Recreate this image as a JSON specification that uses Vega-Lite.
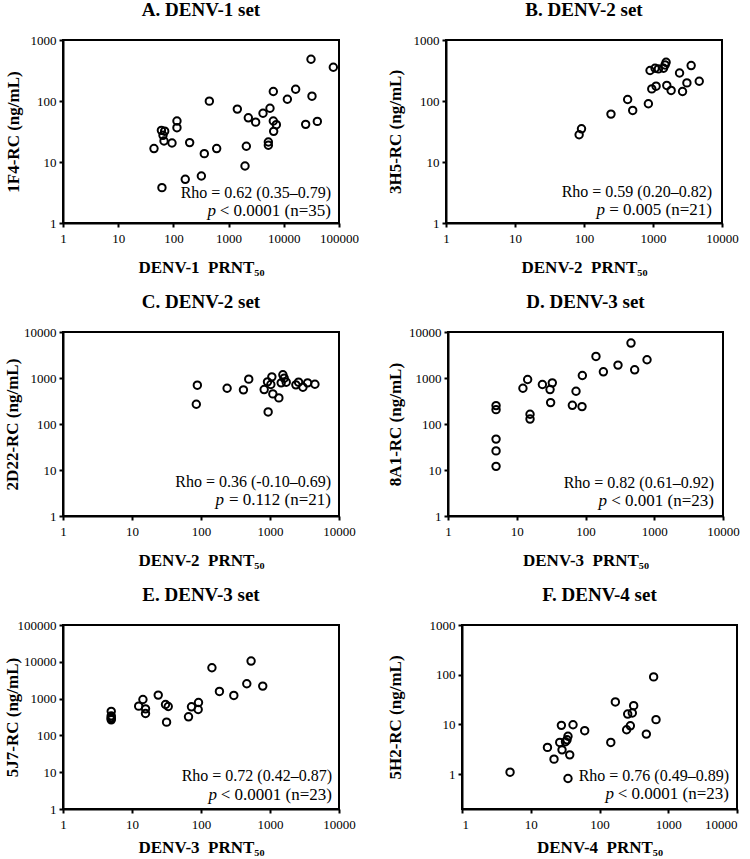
{
  "$schema": "https://vega.github.io/schema/vega-lite/v6.json",
  "padding": {"left": 2, "top": 0, "right": 2, "bottom": 0},
  "columns": 2,
  "align": "none",
  "spacing": {"row": 16, "column": 25},
  "datasets": {
    "A": [{"prnt":44.5,"rc":16.6},{"prnt":62,"rc":3.8},{"prnt":60.6,"rc":33},{"prnt":69.5,"rc":32},{"prnt":64.8,"rc":27.4},{"prnt":67.6,"rc":22.1},{"prnt":94.3,"rc":20.5},{"prnt":116,"rc":47},{"prnt":116,"rc":36.5},{"prnt":197,"rc":20.8},{"prnt":164,"rc":5.2},{"prnt":321,"rc":5.9},{"prnt":363,"rc":13.7},{"prnt":448,"rc":99.5},{"prnt":608,"rc":16.6},{"prnt":1439,"rc":73.6},{"prnt":2277,"rc":53},{"prnt":2095,"rc":18.1},{"prnt":1983,"rc":8.6},{"prnt":3090,"rc":45},{"prnt":4200,"rc":63},{"prnt":5620,"rc":76},{"prnt":5250,"rc":21.3},{"prnt":5250,"rc":18.8},{"prnt":6460,"rc":143},{"prnt":6460,"rc":47},{"prnt":6550,"rc":31.8},{"prnt":7330,"rc":40.9},{"prnt":11600,"rc":107},{"prnt":16400,"rc":156},{"prnt":24900,"rc":41.4},{"prnt":31100,"rc":483},{"prnt":32400,"rc":120},{"prnt":40500,"rc":46.3},{"prnt":78900,"rc":357}],
    "B": [{"prnt":85,"rc":28},{"prnt":92,"rc":35},{"prnt":246,"rc":61},{"prnt":429,"rc":106},{"prnt":508,"rc":70},{"prnt":857,"rc":90},{"prnt":906,"rc":316},{"prnt":1071,"rc":344},{"prnt":1199,"rc":336},{"prnt":1419,"rc":344},{"prnt":1497,"rc":390},{"prnt":1549,"rc":431},{"prnt":2425,"rc":288},{"prnt":3573,"rc":381},{"prnt":960,"rc":158},{"prnt":1109,"rc":175},{"prnt":1585,"rc":180},{"prnt":1832,"rc":149},{"prnt":2680,"rc":143},{"prnt":3100,"rc":198},{"prnt":4680,"rc":211}],
    "C": [{"prnt":85.5,"rc":269},{"prnt":88.5,"rc":698},{"prnt":239,"rc":600},{"prnt":412,"rc":552},{"prnt":492,"rc":944},{"prnt":823,"rc":561},{"prnt":920,"rc":825},{"prnt":940,"rc":183},{"prnt":1028,"rc":721},{"prnt":1064,"rc":1060},{"prnt":1100,"rc":451},{"prnt":1344,"rc":369},{"prnt":1452,"rc":785},{"prnt":1537,"rc":1172},{"prnt":1606,"rc":991},{"prnt":1718,"rc":811},{"prnt":2372,"rc":709},{"prnt":2594,"rc":811},{"prnt":3000,"rc":631},{"prnt":3508,"rc":785},{"prnt":4480,"rc":733}],
    "D": [{"prnt":5,"rc":251},{"prnt":5,"rc":205},{"prnt":5,"rc":47},{"prnt":5,"rc":26},{"prnt":5,"rc":12},{"prnt":12.3,"rc":600},{"prnt":14.4,"rc":927},{"prnt":15.6,"rc":163},{"prnt":15.6,"rc":128},{"prnt":23.6,"rc":721},{"prnt":30.5,"rc":561},{"prnt":32.9,"rc":785},{"prnt":31.1,"rc":292},{"prnt":64.4,"rc":255},{"prnt":72.8,"rc":516},{"prnt":89,"rc":239},{"prnt":90,"rc":1134},{"prnt":142,"rc":2945},{"prnt":182,"rc":1364},{"prnt":297,"rc":1906},{"prnt":459,"rc":5750},{"prnt":519,"rc":1507},{"prnt":785,"rc":2490}],
    "E": [{"prnt":5,"rc":450},{"prnt":5,"rc":340},{"prnt":5,"rc":305},{"prnt":5,"rc":285},{"prnt":5,"rc":265},{"prnt":12.5,"rc":623},{"prnt":14.4,"rc":947},{"prnt":15.7,"rc":527},{"prnt":15.7,"rc":394},{"prnt":24,"rc":1243},{"prnt":30.6,"rc":692},{"prnt":33.5,"rc":611},{"prnt":31.7,"rc":229},{"prnt":65.9,"rc":320},{"prnt":72.8,"rc":598},{"prnt":91,"rc":506},{"prnt":92,"rc":785},{"prnt":144,"rc":6890},{"prnt":185,"rc":1565},{"prnt":299,"rc":1218},{"prnt":461,"rc":2530},{"prnt":532,"rc":10470},{"prnt":785,"rc":2185}],
    "F": [{"prnt":5,"rc":1.1},{"prnt":17.5,"rc":3.46},{"prnt":21.8,"rc":2.01},{"prnt":26.4,"rc":4.36},{"prnt":27.9,"rc":9.6},{"prnt":28.5,"rc":3.09},{"prnt":33.7,"rc":4.92},{"prnt":34.8,"rc":5.8},{"prnt":32,"rc":4.5},{"prnt":34.8,"rc":0.82},{"prnt":36.9,"rc":2.45},{"prnt":41.2,"rc":9.9},{"prnt":60.9,"rc":7.5},{"prnt":146,"rc":4.36},{"prnt":170,"rc":28.4},{"prnt":248,"rc":7.84},{"prnt":257,"rc":16.2},{"prnt":281,"rc":9.4},{"prnt":300,"rc":17},{"prnt":314,"rc":23.9},{"prnt":480,"rc":6.41},{"prnt":613,"rc":90.5},{"prnt":664,"rc":12.5}],
    "notes": [
      {"panel":"A","rho":"Rho = 0.62 (0.35–0.79)","p":"p","rest":"< 0.0001 (n=35)"},
      {"panel":"B","rho":"Rho = 0.59 (0.20–0.82)","p":"p","rest":"= 0.005 (n=21)"},
      {"panel":"C","rho":"Rho = 0.36 (-0.10–0.69)","p":"p","rest":"= 0.112 (n=21)"},
      {"panel":"D","rho":"Rho = 0.82 (0.61–0.92)","p":"p","rest":"< 0.001 (n=23)"},
      {"panel":"E","rho":"Rho = 0.72 (0.42–0.87)","p":"p","rest":"< 0.0001 (n=23)"},
      {"panel":"F","rho":"Rho = 0.76 (0.49–0.89)","p":"p","rest":"< 0.0001 (n=23)"}
    ]
  },
  "concat": [
    {
      "width": 276, "height": 183,
      "title": {"text": "A. DENV-1 set", "anchor": "middle", "frame": "group", "offset": 14},
      "layer": [
        {"data": {"name": "A"},
         "mark": {"type": "point", "shape": "circle", "filled": false, "stroke": "black", "strokeWidth": 2, "size": 55, "opacity": 1},
         "encoding": {
           "x": {"field": "prnt", "type": "quantitative", "scale": {"type": "log", "domain": [1, 100000], "nice": false}, "axis": {"title": "DENV-1 \u00a0PRNT₅₀", "values": [1,10,100,1000,10000,100000], "format": "d"}},
           "y": {"field": "rc", "type": "quantitative", "scale": {"type": "log", "domain": [1, 1000], "nice": false}, "axis": {"title": "1F4-RC (ng/mL)", "values": [1,10,100,1000], "format": "d", "titlePadding": 8}}
         }},
        {"data": {"name": "notes"}, "transform": [{"filter": "datum.panel === 'A'"}],
         "mark": {"type": "text", "align": "right", "baseline": "alphabetic", "dx": -8, "dy": -25, "font": "Liberation Serif", "fontSize": 16, "color": "black"},
         "encoding": {"x": {"datum": 100000, "type": "quantitative"}, "y": {"datum": 1, "type": "quantitative"}, "text": {"field": "rho"}}},
        {"data": {"name": "notes"}, "transform": [{"filter": "datum.panel === 'A'"}],
         "mark": {"type": "text", "align": "right", "baseline": "alphabetic", "dx": -8, "dy": -7, "font": "Liberation Serif", "fontSize": 17, "color": "black"},
         "encoding": {"x": {"datum": 100000, "type": "quantitative"}, "y": {"datum": 1, "type": "quantitative"}, "text": {"field": "rest"}}},
        {"data": {"name": "notes"}, "transform": [{"filter": "datum.panel === 'A'"}],
         "mark": {"type": "text", "align": "right", "baseline": "alphabetic", "dx": -123, "dy": -7, "font": "Liberation Serif", "fontSize": 17, "fontStyle": "italic", "color": "black"},
         "encoding": {"x": {"datum": 100000, "type": "quantitative"}, "y": {"datum": 1, "type": "quantitative"}, "text": {"field": "p"}}}
      ]
    },
    {
      "width": 276, "height": 183,
      "title": {"text": "B. DENV-2 set", "anchor": "middle", "frame": "group", "offset": 14},
      "layer": [
        {"data": {"name": "B"},
         "mark": {"type": "point", "shape": "circle", "filled": false, "stroke": "black", "strokeWidth": 2, "size": 55, "opacity": 1},
         "encoding": {
           "x": {"field": "prnt", "type": "quantitative", "scale": {"type": "log", "domain": [1, 10000], "nice": false}, "axis": {"title": "DENV-2 \u00a0PRNT₅₀", "values": [1,10,100,1000,10000], "format": "d"}},
           "y": {"field": "rc", "type": "quantitative", "scale": {"type": "log", "domain": [1, 1000], "nice": false}, "axis": {"title": "3H5-RC (ng/mL)", "values": [1,10,100,1000], "format": "d", "titlePadding": 8.5}}
         }},
        {"data": {"name": "notes"}, "transform": [{"filter": "datum.panel === 'B'"}],
         "mark": {"type": "text", "align": "right", "baseline": "alphabetic", "dx": -10, "dy": -26, "font": "Liberation Serif", "fontSize": 16, "color": "black"},
         "encoding": {"x": {"datum": 10000, "type": "quantitative"}, "y": {"datum": 1, "type": "quantitative"}, "text": {"field": "rho"}}},
        {"data": {"name": "notes"}, "transform": [{"filter": "datum.panel === 'B'"}],
         "mark": {"type": "text", "align": "right", "baseline": "alphabetic", "dx": -10, "dy": -8, "font": "Liberation Serif", "fontSize": 17, "color": "black"},
         "encoding": {"x": {"datum": 10000, "type": "quantitative"}, "y": {"datum": 1, "type": "quantitative"}, "text": {"field": "rest"}}},
        {"data": {"name": "notes"}, "transform": [{"filter": "datum.panel === 'B'"}],
         "mark": {"type": "text", "align": "right", "baseline": "alphabetic", "dx": -117, "dy": -8, "font": "Liberation Serif", "fontSize": 17, "fontStyle": "italic", "color": "black"},
         "encoding": {"x": {"datum": 10000, "type": "quantitative"}, "y": {"datum": 1, "type": "quantitative"}, "text": {"field": "p"}}}
      ]
    },
    {
      "width": 276, "height": 184,
      "title": {"text": "C. DENV-2 set", "anchor": "middle", "frame": "group", "offset": 14},
      "layer": [
        {"data": {"name": "C"},
         "mark": {"type": "point", "shape": "circle", "filled": false, "stroke": "black", "strokeWidth": 2, "size": 55, "opacity": 1},
         "encoding": {
           "x": {"field": "prnt", "type": "quantitative", "scale": {"type": "log", "domain": [1, 10000], "nice": false}, "axis": {"title": "DENV-2 \u00a0PRNT₅₀", "values": [1,10,100,1000,10000], "format": "d"}},
           "y": {"field": "rc", "type": "quantitative", "scale": {"type": "log", "domain": [1, 10000], "nice": false}, "axis": {"title": "2D22-RC (ng/mL)", "values": [1,10,100,1000,10000], "format": "d", "titlePadding": 2}}
         }},
        {"data": {"name": "notes"}, "transform": [{"filter": "datum.panel === 'C'"}],
         "mark": {"type": "text", "align": "right", "baseline": "alphabetic", "dx": -8, "dy": -29, "font": "Liberation Serif", "fontSize": 16, "color": "black"},
         "encoding": {"x": {"datum": 10000, "type": "quantitative"}, "y": {"datum": 1, "type": "quantitative"}, "text": {"field": "rho"}}},
        {"data": {"name": "notes"}, "transform": [{"filter": "datum.panel === 'C'"}],
         "mark": {"type": "text", "align": "right", "baseline": "alphabetic", "dx": -8, "dy": -11, "font": "Liberation Serif", "fontSize": 17, "color": "black"},
         "encoding": {"x": {"datum": 10000, "type": "quantitative"}, "y": {"datum": 1, "type": "quantitative"}, "text": {"field": "rest"}}},
        {"data": {"name": "notes"}, "transform": [{"filter": "datum.panel === 'C'"}],
         "mark": {"type": "text", "align": "right", "baseline": "alphabetic", "dx": -115, "dy": -11, "font": "Liberation Serif", "fontSize": 17, "fontStyle": "italic", "color": "black"},
         "encoding": {"x": {"datum": 10000, "type": "quantitative"}, "y": {"datum": 1, "type": "quantitative"}, "text": {"field": "p"}}}
      ]
    },
    {
      "width": 275, "height": 184,
      "title": {"text": "D. DENV-3 set", "anchor": "middle", "frame": "group", "offset": 14},
      "layer": [
        {"data": {"name": "D"},
         "mark": {"type": "point", "shape": "circle", "filled": false, "stroke": "black", "strokeWidth": 2, "size": 55, "opacity": 1},
         "encoding": {
           "x": {"field": "prnt", "type": "quantitative", "scale": {"type": "log", "domain": [1, 10000], "nice": false}, "axis": {"title": "DENV-3 \u00a0PRNT₅₀", "values": [1,10,100,1000,10000], "format": "d"}},
           "y": {"field": "rc", "type": "quantitative", "scale": {"type": "log", "domain": [1, 10000], "nice": false}, "axis": {"title": "8A1-RC (ng/mL)", "values": [1,10,100,1000,10000], "format": "d", "titlePadding": 4}}
         }},
        {"data": {"name": "notes"}, "transform": [{"filter": "datum.panel === 'D'"}],
         "mark": {"type": "text", "align": "right", "baseline": "alphabetic", "dx": -9, "dy": -28, "font": "Liberation Serif", "fontSize": 16, "color": "black"},
         "encoding": {"x": {"datum": 10000, "type": "quantitative"}, "y": {"datum": 1, "type": "quantitative"}, "text": {"field": "rho"}}},
        {"data": {"name": "notes"}, "transform": [{"filter": "datum.panel === 'D'"}],
         "mark": {"type": "text", "align": "right", "baseline": "alphabetic", "dx": -9, "dy": -10, "font": "Liberation Serif", "fontSize": 17, "color": "black"},
         "encoding": {"x": {"datum": 10000, "type": "quantitative"}, "y": {"datum": 1, "type": "quantitative"}, "text": {"field": "rest"}}},
        {"data": {"name": "notes"}, "transform": [{"filter": "datum.panel === 'D'"}],
         "mark": {"type": "text", "align": "right", "baseline": "alphabetic", "dx": -116, "dy": -10, "font": "Liberation Serif", "fontSize": 17, "fontStyle": "italic", "color": "black"},
         "encoding": {"x": {"datum": 10000, "type": "quantitative"}, "y": {"datum": 1, "type": "quantitative"}, "text": {"field": "p"}}}
      ]
    },
    {
      "width": 276, "height": 184,
      "title": {"text": "E. DENV-3 set", "anchor": "middle", "frame": "group", "offset": 14},
      "layer": [
        {"data": {"name": "E"},
         "mark": {"type": "point", "shape": "circle", "filled": false, "stroke": "black", "strokeWidth": 2, "size": 55, "opacity": 1},
         "encoding": {
           "x": {"field": "prnt", "type": "quantitative", "scale": {"type": "log", "domain": [1, 10000], "nice": false}, "axis": {"title": "DENV-3 \u00a0PRNT₅₀", "values": [1,10,100,1000,10000], "format": "d", "titlePadding": 8}},
           "y": {"field": "rc", "type": "quantitative", "scale": {"type": "log", "domain": [1, 100000], "nice": false}, "axis": {"title": "5J7-RC (ng/mL)", "values": [1,10,100,1000,10000,100000], "format": "d", "titlePadding": -4}}
         }},
        {"data": {"name": "notes"}, "transform": [{"filter": "datum.panel === 'E'"}],
         "mark": {"type": "text", "align": "right", "baseline": "alphabetic", "dx": -7, "dy": -28, "font": "Liberation Serif", "fontSize": 16, "color": "black"},
         "encoding": {"x": {"datum": 10000, "type": "quantitative"}, "y": {"datum": 1, "type": "quantitative"}, "text": {"field": "rho"}}},
        {"data": {"name": "notes"}, "transform": [{"filter": "datum.panel === 'E'"}],
         "mark": {"type": "text", "align": "right", "baseline": "alphabetic", "dx": -7, "dy": -9, "font": "Liberation Serif", "fontSize": 17, "color": "black"},
         "encoding": {"x": {"datum": 10000, "type": "quantitative"}, "y": {"datum": 1, "type": "quantitative"}, "text": {"field": "rest"}}},
        {"data": {"name": "notes"}, "transform": [{"filter": "datum.panel === 'E'"}],
         "mark": {"type": "text", "align": "right", "baseline": "alphabetic", "dx": -122, "dy": -9, "font": "Liberation Serif", "fontSize": 17, "fontStyle": "italic", "color": "black"},
         "encoding": {"x": {"datum": 10000, "type": "quantitative"}, "y": {"datum": 1, "type": "quantitative"}, "text": {"field": "p"}}}
      ]
    },
    {
      "width": 275, "height": 184,
      "title": {"text": "F. DENV-4 set", "anchor": "middle", "frame": "group", "offset": 14},
      "layer": [
        {"data": {"name": "F"},
         "mark": {"type": "point", "shape": "circle", "filled": false, "stroke": "black", "strokeWidth": 2, "size": 55, "opacity": 1},
         "encoding": {
           "x": {"field": "prnt", "type": "quantitative", "scale": {"type": "log", "domain": [1, 10000], "nice": false}, "axis": {"title": "DENV-4 \u00a0PRNT₅₀", "values": [1,10,100,1000,10000], "format": "d", "titlePadding": 8, "labelFlush": true}},
           "y": {"field": "rc", "type": "quantitative", "scale": {"type": "log", "domain": [0.2, 1000], "nice": false}, "axis": {"title": "5H2-RC (ng/mL)", "values": [1,10,100,1000], "format": "d", "titlePadding": 25}}
         }},
        {"data": {"name": "notes"}, "transform": [{"filter": "datum.panel === 'F'"}],
         "mark": {"type": "text", "align": "right", "baseline": "alphabetic", "dx": -8, "dy": -28, "font": "Liberation Serif", "fontSize": 16, "color": "black"},
         "encoding": {"x": {"datum": 10000, "type": "quantitative"}, "y": {"datum": 0.2, "type": "quantitative"}, "text": {"field": "rho"}}},
        {"data": {"name": "notes"}, "transform": [{"filter": "datum.panel === 'F'"}],
         "mark": {"type": "text", "align": "right", "baseline": "alphabetic", "dx": -8, "dy": -10, "font": "Liberation Serif", "fontSize": 17, "color": "black"},
         "encoding": {"x": {"datum": 10000, "type": "quantitative"}, "y": {"datum": 0.2, "type": "quantitative"}, "text": {"field": "rest"}}},
        {"data": {"name": "notes"}, "transform": [{"filter": "datum.panel === 'F'"}],
         "mark": {"type": "text", "align": "right", "baseline": "alphabetic", "dx": -123, "dy": -10, "font": "Liberation Serif", "fontSize": 17, "fontStyle": "italic", "color": "black"},
         "encoding": {"x": {"datum": 10000, "type": "quantitative"}, "y": {"datum": 0.2, "type": "quantitative"}, "text": {"field": "p"}}}
      ]
    }
  ],
  "resolve": {"scale": {"x": "independent", "y": "independent"}},
  "config": {
    "background": "white",
    "view": {"stroke": "black", "strokeWidth": 2},
    "axis": {
      "grid": false,
      "domainColor": "black", "domainWidth": 2,
      "tickColor": "black", "tickWidth": 2, "tickSize": 4,
      "labelFont": "Liberation Serif", "labelFontSize": 13, "labelColor": "black", "labelPadding": 3,
      "labelFlush": false,
      "titleFont": "Liberation Serif", "titleFontSize": 17, "titleFontWeight": "bold", "titleColor": "black"
    },
    "axisX": {"titlePadding": 14, "labelPadding": 5},
    "title": {"font": "Liberation Serif", "fontSize": 19, "fontWeight": "bold", "color": "black"}
  }
}
